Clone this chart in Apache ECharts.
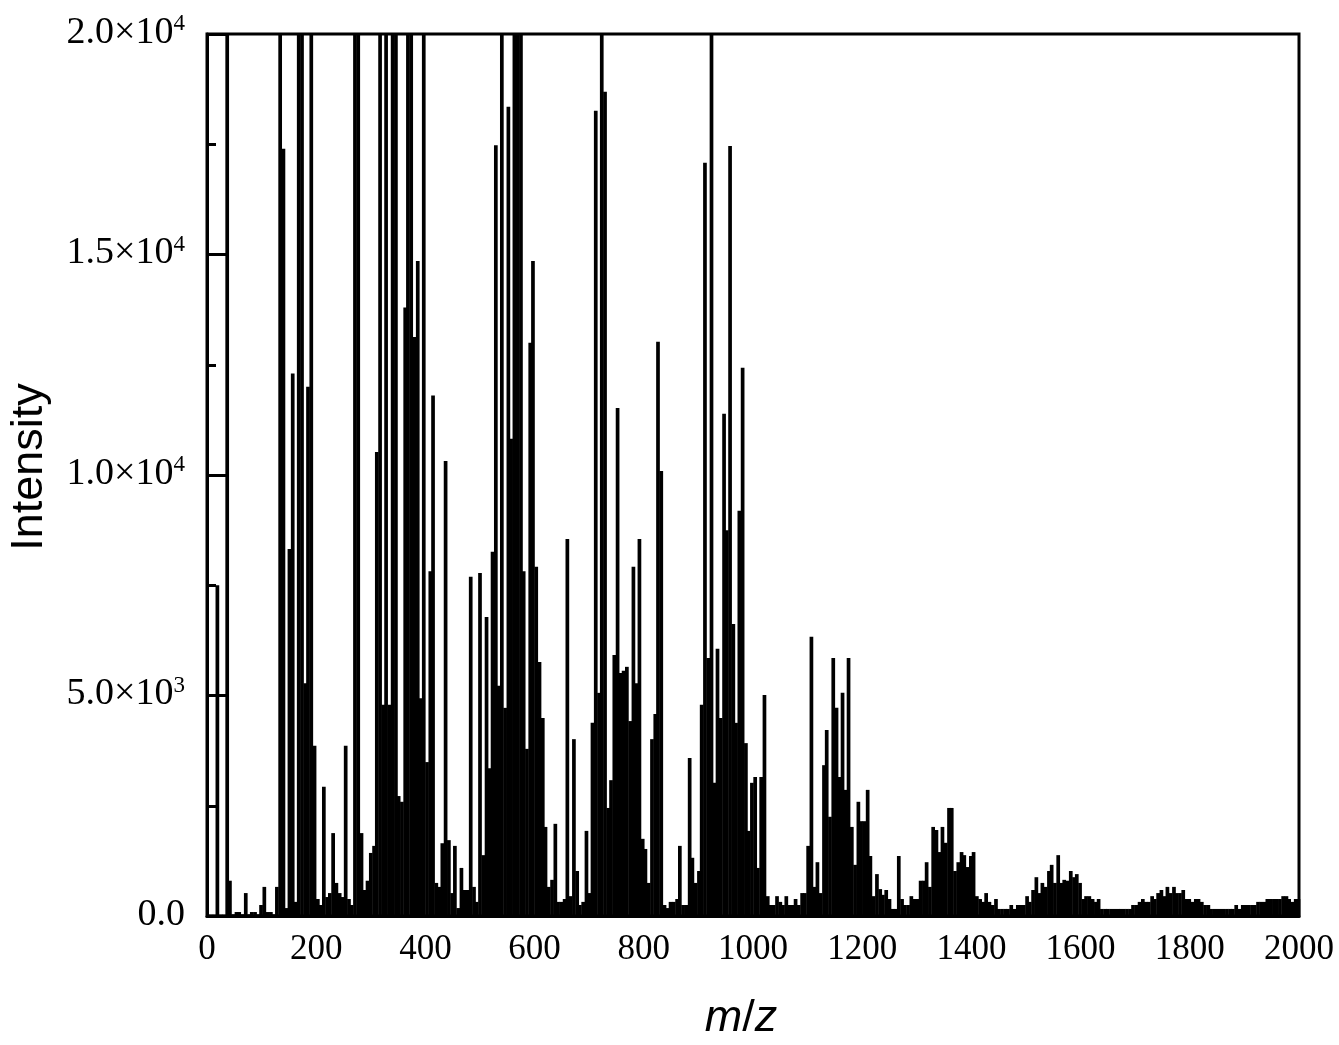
<!DOCTYPE html>
<html>
<head>
<meta charset="utf-8">
<style>html,body{margin:0;padding:0;background:#fff}#c{width:1339px;height:1045px}</style>
<script src="https://cdn.jsdelivr.net/npm/echarts@6/dist/echarts.min.js"></script>
</head>
<body>
<div id="c"></div>
<script>
const mzLow = [2,8,14,19,25,31,37,42,48,54,59,65,71,77,82,88,94,99,105,111,117,122,128,134,140,145,151,157,162,168,174,180,185,191,197,203,208,214,220,225,231,237,243,248,254,260,265,271,277,283,288,294,300,306,311,317,323,328,334,340,346,351,357,363,368,374,380,386,391,397,403,409,414,420,426,431,437,443,449,454,460,466,471,477,483,489,494,500,506,512,517,523,529,534,540,546,552,557,563,569,575,580,586,592,597,603,609,615,620,626,632,638,643,649,655,660,666,672,678,683,689,695,701,706,712,718,723,729,735,740,746,752,758,763,769,775,781,786,792,798,803,809,815,821,826,832,838,844,849,855,861,866,872,878,884,889,895,901,906,912,918,924,929,935,941,947,952,958,964,969,975,981,987,992,998];
const mzHigh = [1004,1009,1015,1021,1027,1032,1038,1044,1050,1055,1061,1067,1072,1078,1084,1090,1095,1101,1107,1112,1118,1124,1130,1135,1141,1147,1153,1158,1164,1170,1175,1181,1187,1193,1198,1204,1210,1215,1221,1227,1233,1238,1244,1250,1256,1261,1267,1273,1278,1284,1290,1296,1301,1307,1313,1318,1324,1330,1336,1341,1347,1353,1359,1364,1370,1376,1382,1387,1393,1399,1404,1410,1416,1422,1427,1433,1439,1445,1450,1456,1462,1467,1473,1479,1485,1490,1496,1502,1507,1513,1519,1525,1530,1536,1542,1547,1553,1559,1565,1570,1576,1582,1588,1593,1599,1605,1610,1616,1622,1628,1633,1639,1645,1650,1656,1662,1668,1673,1679,1685,1691,1696,1702,1708,1714,1719,1725,1731,1736,1742,1748,1754,1759,1765,1771,1776,1782,1788,1794,1799,1805,1811,1816,1822,1828,1834,1839,1845,1851,1856,1862,1868,1874,1879,1885,1891,1897,1902,1908,1914,1919,1925,1931,1937,1942,1948,1954,1959,1965,1971,1977,1982,1988,1994,1999];

const intensityLow = [
30,30,30,7500,30,30,20000,800,40,90,90,40,520,40,90,90,40,250,660,90,90,40,660,20000,17400,180,8320,12300,320,20000,
20000,5280,12000,20000,3860,385,250,2930,430,520,1880,750,520,430,3860,385,250,20000,20000,1880,590,800,1430,1590,10520,20000,4790,20000,4790,20000,
20000,2720,2590,13800,20000,20000,13130,14850,4940,20000,3490,7820,11800,750,660,1650,10320,1720,520,1590,180,1090,590,590,7690,660,320,7780,1380,6780,
3350,8260,17480,5220,20000,4720,18350,10820,20000,20000,20000,7820,3790,13000,14850,7920,5760,4490,2020,660,820,2090,320,320,385,8550,450,4010,1020,250,
320,1930,520,4380,18260,5060,20000,18690,2450,3080,5920,11520,5510,5560,5650,4420,7920,5280,8550,1750,1520,750,4010,4580,13020,10090,250,180,320,320,
385,1590,250,250,3580,1320,750,1020,4790,17080,5850,20000,3020,6060,4490,11390,8750,17460,6620,4380,9190,12430,3920,1930,3020
];
const intensityHigh = [
3150,1090,3150,5010,450,250,250,450,320,250,450,250,250,385,250,520,520,1590,6330,660,1220,520,3420,4220,2250,5850,4720,3150,5060,2860,
5850,2020,1160,2590,2150,2150,2860,1360,450,950,610,480,590,385,160,160,1360,385,250,250,450,385,385,800,800,1220,660,2020,1950,1450,
2020,1660,2450,2450,1020,1220,1450,1380,1110,1360,1450,450,385,320,520,320,250,385,160,160,160,160,250,160,250,250,250,450,320,590,
880,520,750,660,1020,1160,750,1380,750,820,800,1020,880,950,750,385,450,450,385,320,385,160,160,160,160,160,160,160,160,160,
160,250,250,320,385,320,320,450,385,520,590,450,660,520,660,520,520,590,385,385,320,385,385,320,250,250,160,160,160,160,
160,160,160,160,250,160,250,250,250,250,250,320,320,320,385,385,385,385,385,450,450,385,320,385,385
];

const xTicks = {0:'0',200:'200',400:'400',600:'600',800:'800',1000:'1000',1200:'1200',1400:'1400',1600:'1600',1800:'1800',2000:'2000'};
const yTicks = {0:'0.0',5000:'5.0×10{sup|3}',10000:'1.0×10{sup|4}',15000:'1.5×10{sup|4}',20000:'2.0×10{sup|4}'};

const mz = mzLow.concat(mzHigh);
const intensity = intensityLow.concat(intensityHigh);
const points = mz.map((m, i) => [m, intensity[i]]);

const serif = '"Liberation Serif"';
const sans = '"Liberation Sans"';
const chart = echarts.init(document.getElementById('c'), null, {renderer: 'canvas'});
chart.setOption({
  animation: false,
  backgroundColor: '#fff',
  grid: {left: 207, top: 34, width: 1092, height: 882, show: true, borderColor: '#000', borderWidth: 3, backgroundColor: 'transparent', containLabel: false, outerBoundsMode: 'none'},
  xAxis: {
    type: 'value', min: 0, max: 2000, interval: 200,
    name: '{i|m}/{i|z}', nameLocation: 'middle', nameGap: 80,
    nameTextStyle: {fontFamily: sans, fontSize: 45, color: '#000', padding: [0, 24, 0, 0], rich: {i: {fontFamily: sans, fontSize: 45, fontStyle: 'italic', color: '#000'}}},
    axisLine: {show: true, lineStyle: {color: '#000', width: 3}},
    axisTick: {show: false},
    splitLine: {show: false},
    axisLabel: {fontFamily: serif, fontSize: 35, color: '#000', margin: 16, formatter: v => xTicks[v], showMinLabel: true, showMaxLabel: true, hideOverlap: false}
  },
  yAxis: {
    type: 'value', min: 0, max: 20000, interval: 5000,
    name: 'Intensity', nameLocation: 'middle', nameGap: 155, nameRotate: 90,
    nameTextStyle: {fontFamily: sans, fontSize: 45, color: '#000', padding: [0, 0, 0, 16]},
    axisLine: {show: true, lineStyle: {color: '#000', width: 3}},
    axisTick: {show: true, inside: true, length: 19, lineStyle: {color: '#000', width: 3}},
    minorTick: {show: true, splitNumber: 2, length: 9, lineStyle: {color: '#000', width: 3}},
    splitLine: {show: false},
    minorSplitLine: {show: false},
    axisLabel: {
      fontFamily: serif, fontSize: 38, color: '#000', margin: 22, padding: [0, 0, 2, 0],
      formatter: v => yTicks[v],
      rich: {sup: {fontFamily: serif, fontSize: 23, color: '#000', verticalAlign: 'top', padding: [0, 0, 18, 0]}}
    }
  },
  series: [{
    type: 'bar', data: points, barWidth: 3.7, clip: true, silent: true,
    itemStyle: {color: '#000'}, z: 2
  }]
});
</script>
</body>
</html>
